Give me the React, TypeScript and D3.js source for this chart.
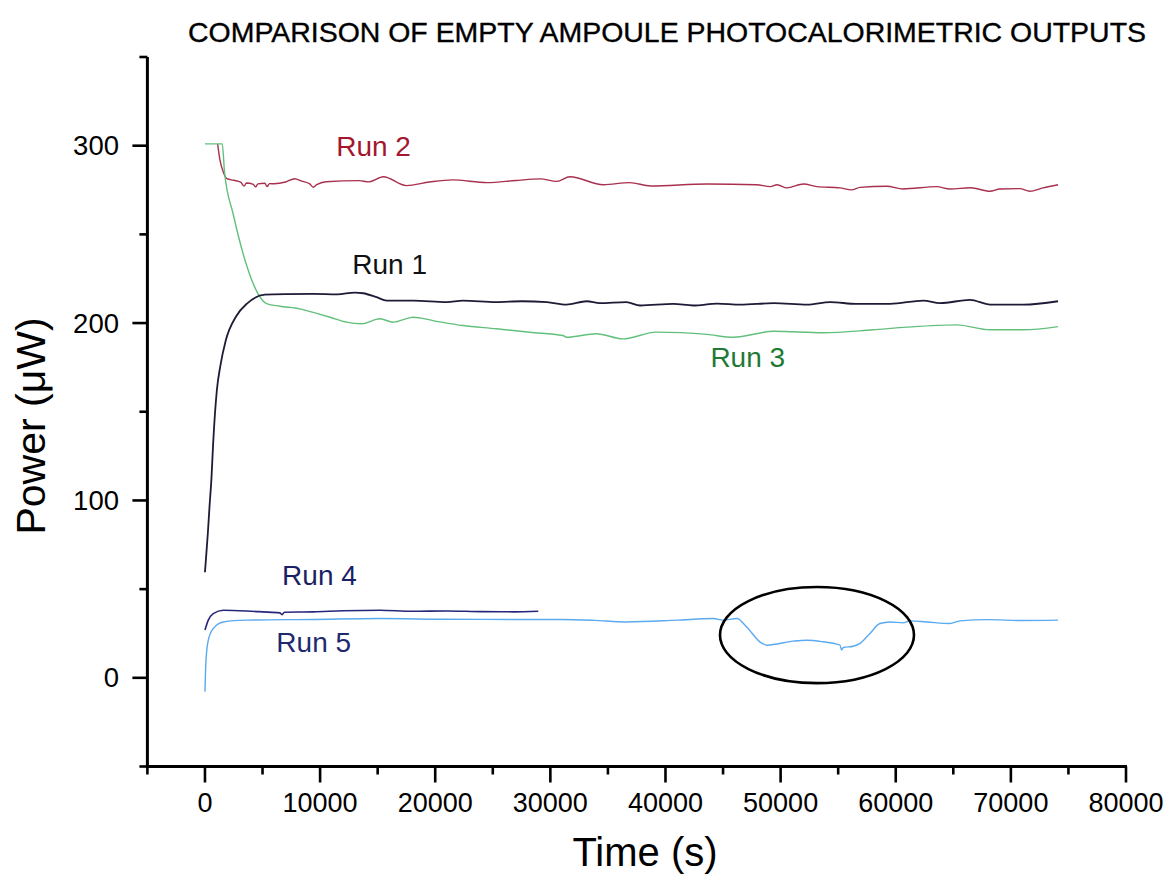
import React from 'react';
import * as d3 from 'd3';

const TITLE = 'COMPARISON OF EMPTY AMPOULE PHOTOCALORIMETRIC OUTPUTS';
const X_LABEL = 'Time (s)';
const Y_LABEL = 'Power (\u03bcW)';

const xDomain: [number, number] = [-5000, 80000];
const yDomain: [number, number] = [-50, 350];
const xMajorTicks = [0, 10000, 20000, 30000, 40000, 50000, 60000, 70000, 80000];
const xMinorTicks = [-5000, 5000, 15000, 25000, 35000, 45000, 55000, 65000, 75000];
const yMajorTicks = [0, 100, 200, 300];
const yMinorTicks = [-50, 50, 150, 250, 350];

// [time (s), power (µW)]
const run1: [number, number][] = [
  [0, 59.5], [120, 70], [250, 81.5], [400, 97], [560, 112], [710, 132], [1030, 162], [1340, 176], [1800, 190],
  [2730, 204], [3650, 211], [5200, 216], [7000, 216.3], [9400, 216.4], [11500, 216.2],
  [13000, 217.2], [13750, 216.8], [14900, 214.6], [15800, 212.7], [18100, 212.7],
  [21000, 211.8], [22400, 212.7], [25300, 211.8], [27500, 212.3], [29700, 211.8],
  [31400, 210.4], [33150, 212.3], [34300, 211.2], [36600, 211.8], [37800, 209.9],
  [40700, 210.8], [42400, 209.9], [44500, 211], [46500, 210.4], [49400, 211.2],
  [52300, 210.4], [54300, 211.8], [56600, 210.8], [59500, 210.8], [62400, 212.7],
  [63850, 211.2], [66450, 213.1], [68200, 210.4], [71100, 210.4], [74100, 212.3],
];

const run2: [number, number][] = [
  [1100, 301], [1300, 292], [1600, 285], [1900, 281.4], [2500, 280.5], [3100, 279.5],
  [3400, 277.2], [3600, 279], [4200, 278.2], [4400, 276.8], [4600, 278.5], [5200, 278.8],
  [5400, 276.9], [5600, 278.6], [6000, 278.5], [7000, 279.5], [7800, 281.4], [8400, 280],
  [9100, 278.5], [9400, 276.6], [9700, 278], [10500, 279.7], [13400, 280.3], [14200, 279.6],
  [15500, 282.5], [17500, 277.5], [19500, 279.5], [21500, 280.7], [24500, 279.2],
  [27000, 280.4], [29100, 281.3], [30550, 279.9], [31700, 282.5], [34600, 278],
  [36900, 279.2], [38700, 277.3], [43600, 278.4], [47900, 278], [49100, 276.9],
  [49700, 278], [50540, 276.2], [52000, 278.4], [53150, 276.9], [55150, 276.2],
  [56170, 275.1], [56890, 276.5], [59200, 277.1], [60650, 275.6], [63550, 276.9],
  [64710, 275.6], [66500, 276.3], [68180, 274.3], [69050, 275.6], [70770, 275.8],
  [71640, 274.3], [72800, 276.2], [74100, 278],
];

const run3: [number, number][] = [
  [0, 301], [1500, 301], [1700, 285], [2450, 261.5], [3500, 235], [4610, 216.5],
  [5350, 211], [6500, 209.5], [8250, 208], [8834, 207], [10860, 203.3], [12300, 200.5],
  [13600, 199.6], [15200, 202.4], [16350, 200.5], [18100, 203.3], [19800, 201.4],
  [22400, 198.6], [25300, 196.8], [28200, 194.8], [31100, 193], [31400, 192],
  [34000, 194], [36300, 191.1], [39200, 194.9], [43600, 193.6], [45900, 192],
  [49400, 195.4], [53700, 194.5], [58000, 196.2], [60950, 197.7], [65300, 199],
  [68200, 196.2], [71100, 196.2], [74100, 198],
];

const run4: [number, number][] = [
  [0, 26.9], [290, 32.5], [720, 36.2], [1590, 38.1], [3620, 37.7], [5000, 37.2],
  [6500, 36.6], [6700, 35.6], [6900, 37], [9400, 37.2], [12000, 37.8], [15200, 38.1],
  [18000, 37.5], [21000, 37.7], [24000, 37.3], [26800, 37.2], [28950, 37.5],
];

const run5: [number, number][] = [
  [0, -7.9], [90, 10], [290, 21.2], [720, 27.8], [1590, 31.5], [3620, 32.5], [9400, 32.9],
  [15200, 33.4], [21000, 33.0], [26800, 32.9], [30850, 32.9], [33800, 32.4], [36600, 31.5],
  [41000, 32.5], [44150, 33.4], [45000, 32.5], [46200, 33.4], [47050, 28.7], [48200, 20.3],
  [48800, 18.4], [51100, 20.7], [52260, 21.2], [53700, 20.3], [54870, 19], [55150, 18.5],
  [55300, 15.6], [55450, 17.1], [56300, 17.8], [56900, 19.4], [57760, 25], [58630, 30.6],
  [59500, 31.5], [60650, 31], [61240, 32.1], [62700, 31.5], [64700, 30.6], [65580, 32.1],
  [68000, 32.8], [71000, 32.3], [74100, 32.5],
];

const series = [
  { name: 'Run 2', data: run2, color: '#a8304e', width: 1.4 },
  { name: 'Run 3', data: run3, color: '#62c07c', width: 1.4 },
  { name: 'Run 1', data: run1, color: '#1d1b36', width: 1.8 },
  { name: 'Run 4', data: run4, color: '#26267c', width: 1.6 },
  { name: 'Run 5', data: run5, color: '#5aaaf0', width: 1.4 },
];

// label anchors in data units [time, power]
const labels = [
  { text: 'Run 2', t: 11400, v: 294.2, color: '#a3162e' },
  { text: 'Run 1', t: 12800, v: 227.7, color: '#111111' },
  { text: 'Run 3', t: 43900, v: 175.2, color: '#1f7a35' },
  { text: 'Run 4', t: 6700, v: 52.3, color: '#1b1f66' },
  { text: 'Run 5', t: 6200, v: 14.6, color: '#1f2a6e' },
];

// highlighted region (ellipse), in data units
const highlight = { t: 53160, v: 24.1, rt: 8425, rv: 27.1 };

const W = 1167;
const H = 874;
const FONT = '"Liberation Sans", Arial, Helvetica, sans-serif';

export default function App() {
  const x = d3.scaleLinear().domain(xDomain).range([147.4, 1126]);
  const y = d3.scaleLinear().domain(yDomain).range([766.5, 57]);
  const line = d3
    .line<[number, number]>()
    .x((d) => x(d[0]))
    .y((d) => y(d[1]))
    .curve(d3.curveMonotoneX);

  const x0 = x(xDomain[0]);
  const yBottom = y(yDomain[0]);

  return (
    <svg width={W} height={H} style={{ position: 'absolute', left: 0, top: 0, background: '#fff' }} fontFamily={FONT}>
      <rect width={W} height={H} fill="#fff" />
      <text x={188} y={42} fontSize={28} textLength={958} lengthAdjust="spacingAndGlyphs" fill="#000" stroke="#000" strokeWidth={0.35}>{TITLE}</text>

      {/* axes */}
      <line x1={x0} x2={x0} y1={y(yDomain[1])} y2={yBottom + 1.5} stroke="#000" strokeWidth={3} />
      <line x1={x0 - 1.5} x2={x(xDomain[1]) + 1} y1={yBottom} y2={yBottom} stroke="#000" strokeWidth={3} />
      {yMajorTicks.map((v) => (
        <g key={'ym' + v}>
          <line x1={x0 - 15} x2={x0} y1={y(v)} y2={y(v)} stroke="#000" strokeWidth={2.6} />
          <text x={119} y={y(v) + 9.5} fontSize={27.5} textAnchor="end" fill="#000">{v}</text>
        </g>
      ))}
      {yMinorTicks.map((v) => (
        <line key={'yn' + v} x1={x0 - 8} x2={x0} y1={y(v)} y2={y(v)} stroke="#000" strokeWidth={2.6} />
      ))}
      {xMajorTicks.map((t) => (
        <g key={'xm' + t}>
          <line x1={x(t)} x2={x(t)} y1={yBottom} y2={yBottom + 16} stroke="#000" strokeWidth={2.6} />
          <text x={x(t)} y={812} fontSize={27} textAnchor="middle" fill="#000">{t}</text>
        </g>
      ))}
      {xMinorTicks.map((t) => (
        <line key={'xn' + t} x1={x(t)} x2={x(t)} y1={yBottom} y2={yBottom + 8} stroke="#000" strokeWidth={2.6} />
      ))}

      <text x={645} y={866} fontSize={40} textAnchor="middle" fill="#000">{X_LABEL}</text>
      <text transform={`translate(45, 426) rotate(-90)`} fontSize={41} textAnchor="middle" fill="#000">{Y_LABEL}</text>

      {/* series */}
      {series.map((s) => (
        <path key={s.name} d={line(s.data) || ''} fill="none" stroke={s.color} strokeWidth={s.width} strokeLinejoin="round" />
      ))}

      {labels.map((l) => (
        <text key={l.text} x={x(l.t)} y={y(l.v)} fontSize={28} fill={l.color}>{l.text}</text>
      ))}

      <ellipse
        cx={x(highlight.t)}
        cy={y(highlight.v)}
        rx={x(highlight.t + highlight.rt) - x(highlight.t)}
        ry={y(highlight.v) - y(highlight.v + highlight.rv)}
        fill="none"
        stroke="#000"
        strokeWidth={2.6}
      />
    </svg>
  );
}
